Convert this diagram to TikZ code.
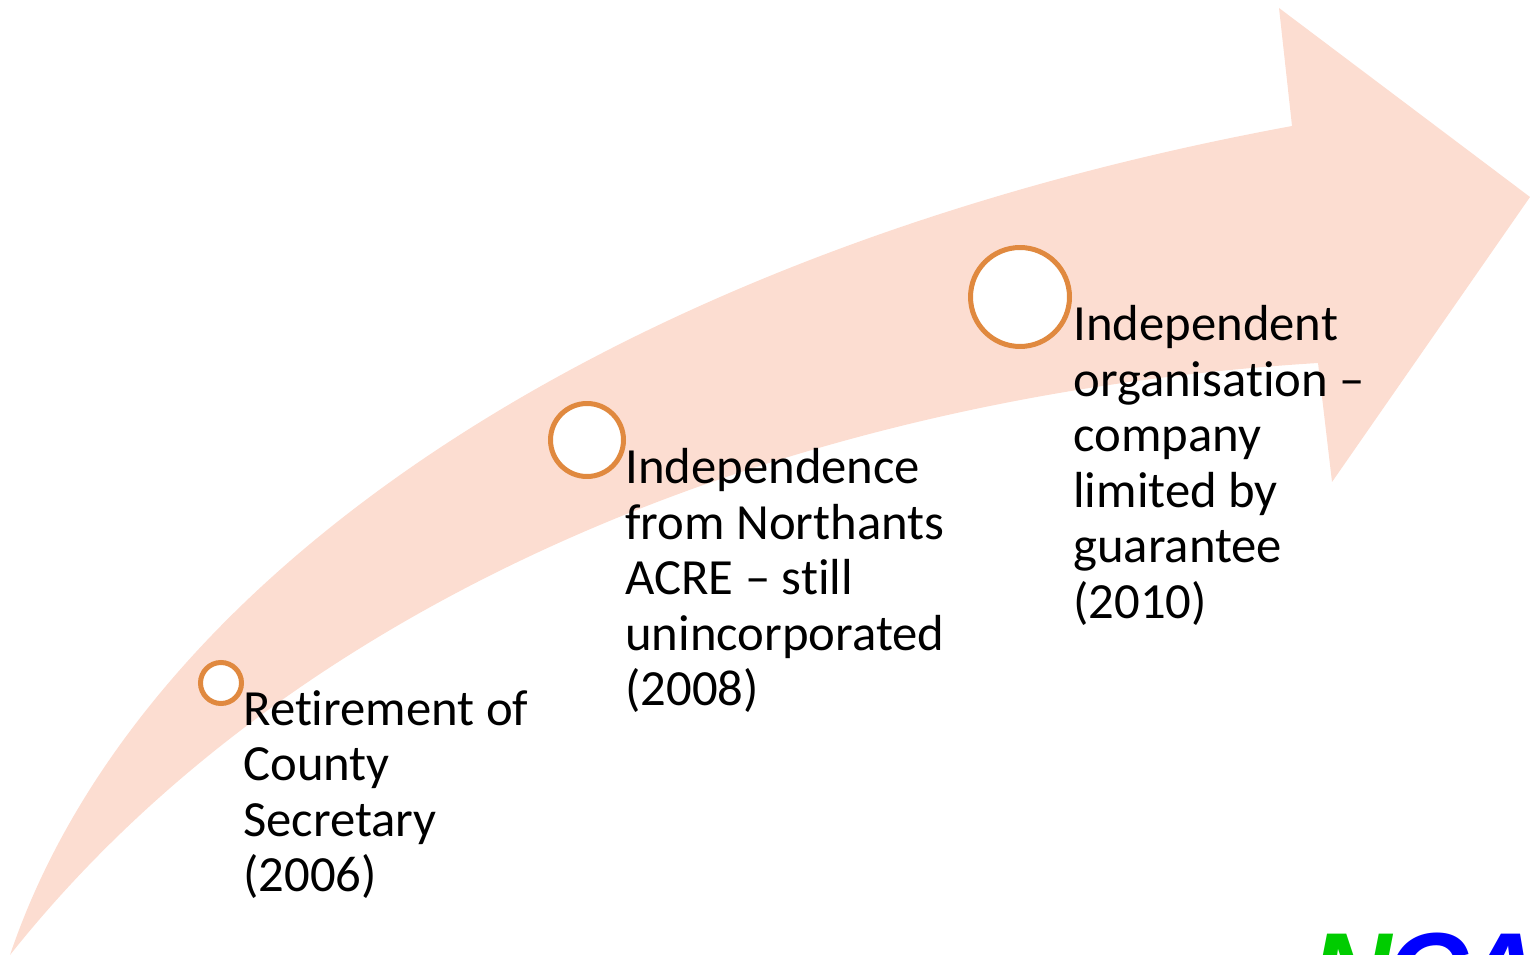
\documentclass[tikz,border=0pt]{standalone}
\usepackage{fontspec}
\setmainfont[Ligatures=NoCommon]{Carlito}
\newfontfamily\logofont{Liberation Sans}
\definecolor{arrowpink}{HTML}{FCDDD1}
\definecolor{ringorange}{HTML}{E0893F}
\definecolor{logogreen}{HTML}{00CC00}
\definecolor{logoblue}{HTML}{0000FF}
\tikzset{
  ring/.style={circle,draw=ringorange,fill=white,line width=1mm,inner sep=0pt},
  stage/.style={anchor=north west,inner sep=0pt,align=left,font=\fontsize{28.85}{31.6}\selectfont},
  logo/.style={anchor=base west,inner sep=0pt,font=\logofont\bfseries\itshape\fontsize{64}{64}\selectfont}
}
\begin{document}
\begin{tikzpicture}[x=0.02cm,y=-0.02cm]
\useasboundingbox (0,0) rectangle (1530,955);
\clip (0,0) rectangle (1530,955);
% big arrow
\fill[arrowpink] (10,955) .. controls (140,570) and (620,250) .. (1292,126)
  -- (1279,8) -- (1530,197) -- (1332,482) -- (1318,363)
  .. controls (800,395) and (300,590) .. (10,955) -- cycle;
% circles
\node[ring,minimum size=0.82cm] (c1) at (221,683) {};
\node[ring,minimum size=1.46cm] (c2) at (587,440) {};
\node[ring,minimum size=1.98cm] (c3) at (1020,297) {};
% texts
\node[stage] (t1) at (243,690) {Retirement of\\County\\Secretary\\(2006)};
\node[stage] (t2) at (625,448) {Independence\\from Northants\\ACRE -- still\\unincorporated\\(2008)};
\node[stage] (t3) at (1073,305) {Independent\\organisation --\\company\\limited by\\guarantee\\(2010)};
% logo, cut by the page
\node[logo] (l1) at (1310,1011) {\textcolor{logogreen}{N}\kern-3pt\textcolor{logoblue}{C\kern-4pt A}};
\end{tikzpicture}
\end{document}
